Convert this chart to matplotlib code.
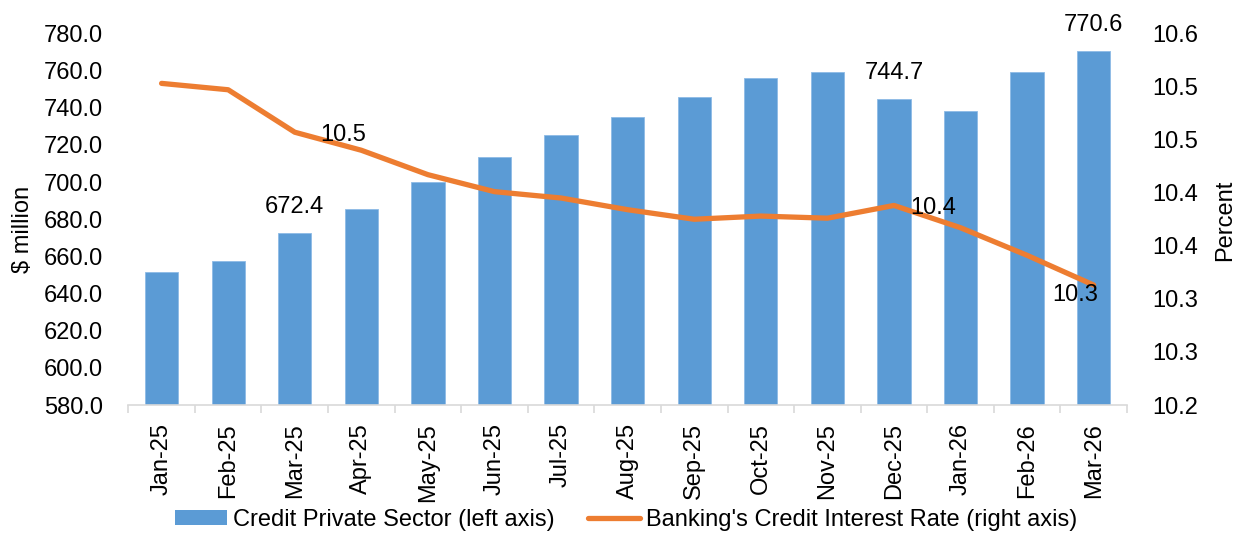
import matplotlib
matplotlib.use('Agg')
import matplotlib.pyplot as plt
from matplotlib.patches import Patch
from matplotlib.lines import Line2D
import numpy as np

months = ['Jan-25', 'Feb-25', 'Mar-25', 'Apr-25', 'May-25', 'Jun-25', 'Jul-25', 'Aug-25',
          'Sep-25', 'Oct-25', 'Nov-25', 'Dec-25', 'Jan-26', 'Feb-26', 'Mar-26']
credit = [651.7, 657.7, 672.4, 685.7, 700.2, 713.6, 725.3, 735.0,
          746.0, 755.9, 759.3, 744.7, 738.2, 759.3, 770.6]
rate = [10.503, 10.497, 10.457, 10.440, 10.417, 10.401, 10.395, 10.384,
        10.375, 10.378, 10.376, 10.388, 10.367, 10.341, 10.313]
left_ticks = [580, 600, 620, 640, 660, 680, 700, 720, 740, 760, 780]
right_ticks = [10.20, 10.25, 10.30, 10.35, 10.40, 10.45, 10.50, 10.55]
right_tick_labels = ['10.2', '10.3', '10.3', '10.4', '10.4', '10.5', '10.5', '10.6']
bar_label_idx = [2, 11, 14]
line_label_idx = [2, 11, 14]

BAR_C = '#5B9BD5'
LINE_C = '#ED7D31'
FS = 17

plt.rcParams['font.family'] = ['Liberation Sans', 'DejaVu Sans']

W, H = 1240, 533
fig = plt.figure(figsize=(W / 100, H / 100), dpi=100)
L, R, T, B = 128.3, 1127.0, 33.5, 405.0
ax = fig.add_axes([L / W, 1 - B / H, (R - L) / W, (B - T) / H])

x = np.arange(len(months))
ax.bar(x, credit, width=0.5, color=BAR_C, edgecolor='#8DBBE6', linewidth=0.6, zorder=2)
ax.set_xlim(-0.5, len(months) - 0.5)
ax.set_ylim(left_ticks[0], left_ticks[-1])
ax.set_yticks(left_ticks)
ax.set_yticklabels([f'{v:.1f}' for v in left_ticks])
ax.tick_params(axis='y', length=0, pad=18, labelsize=FS)
ax.set_xticks(x)
ax.set_xticklabels(months, rotation=90)
ax.tick_params(axis='x', which='major', length=0, pad=13, labelsize=FS)
ax.set_xticks(np.arange(-0.5, len(months), 1), minor=True)
ax.tick_params(axis='x', which='minor', length=6, color='#D9D9D9', width=1.2)
for s in ['top', 'left', 'right']:
    ax.spines[s].set_visible(False)
ax.spines['bottom'].set_color('#D9D9D9')
ax.spines['bottom'].set_linewidth(1.2)

ax.set_ylabel(r'\$ million', fontsize=FS, va='center')
ax.yaxis.set_label_coords((23 - L) / (R - L), (B - 229) / (B - T))

ax2 = ax.twinx()
ax2.plot(x, rate, color=LINE_C, lw=3.8, solid_capstyle='round', solid_joinstyle='round', zorder=3)
ax2.set_ylim(right_ticks[0], right_ticks[-1])
ax2.set_yticks(right_ticks)
ax2.set_yticklabels(right_tick_labels)
ax2.tick_params(axis='y', length=0, pad=18, labelsize=FS)
for s in ['top', 'left', 'right', 'bottom']:
    ax2.spines[s].set_visible(False)
ax2.set_ylabel('Percent', fontsize=FS, rotation=90, va='center')
ax2.yaxis.set_label_coords((1225 - L) / (R - L), (B - 220) / (B - T))

PX = 0.72  # pixels -> points
for i in bar_label_idx:
    ax.annotate(f'{credit[i]:.1f}', xy=(x[i], credit[i]), xytext=(0, 26 * PX),
                textcoords='offset points', ha='center', va='center', fontsize=FS, zorder=5)

line_offsets = {2: (25, -2.3, 'left'), 11: (16, -3, 'left'), 14: (-19, -10, 'center')}
for i in line_label_idx:
    dx, dy, ha = line_offsets[i]
    ax2.annotate(f'{rate[i]:.1f}', xy=(x[i], rate[i]), xytext=(dx * PX, dy * PX),
                 textcoords='offset points', ha=ha, va='center', fontsize=FS, zorder=5)

handles = [Patch(facecolor=BAR_C, edgecolor='none'),
           Line2D([0], [0], color=LINE_C, lw=3.8, solid_capstyle='round')]
labels = ['Credit Private Sector (left axis)', "Banking's Credit Interest Rate (right axis)"]
fig.legend(handles, labels, loc='center', bbox_to_anchor=(626 / W, 1 - 520 / H), ncol=2,
           frameon=False, fontsize=FS, handlelength=2.2, handleheight=0.62,
           handletextpad=0.25, columnspacing=1.4, borderaxespad=0, borderpad=0)

fig.savefig('out.png', dpi=100)
